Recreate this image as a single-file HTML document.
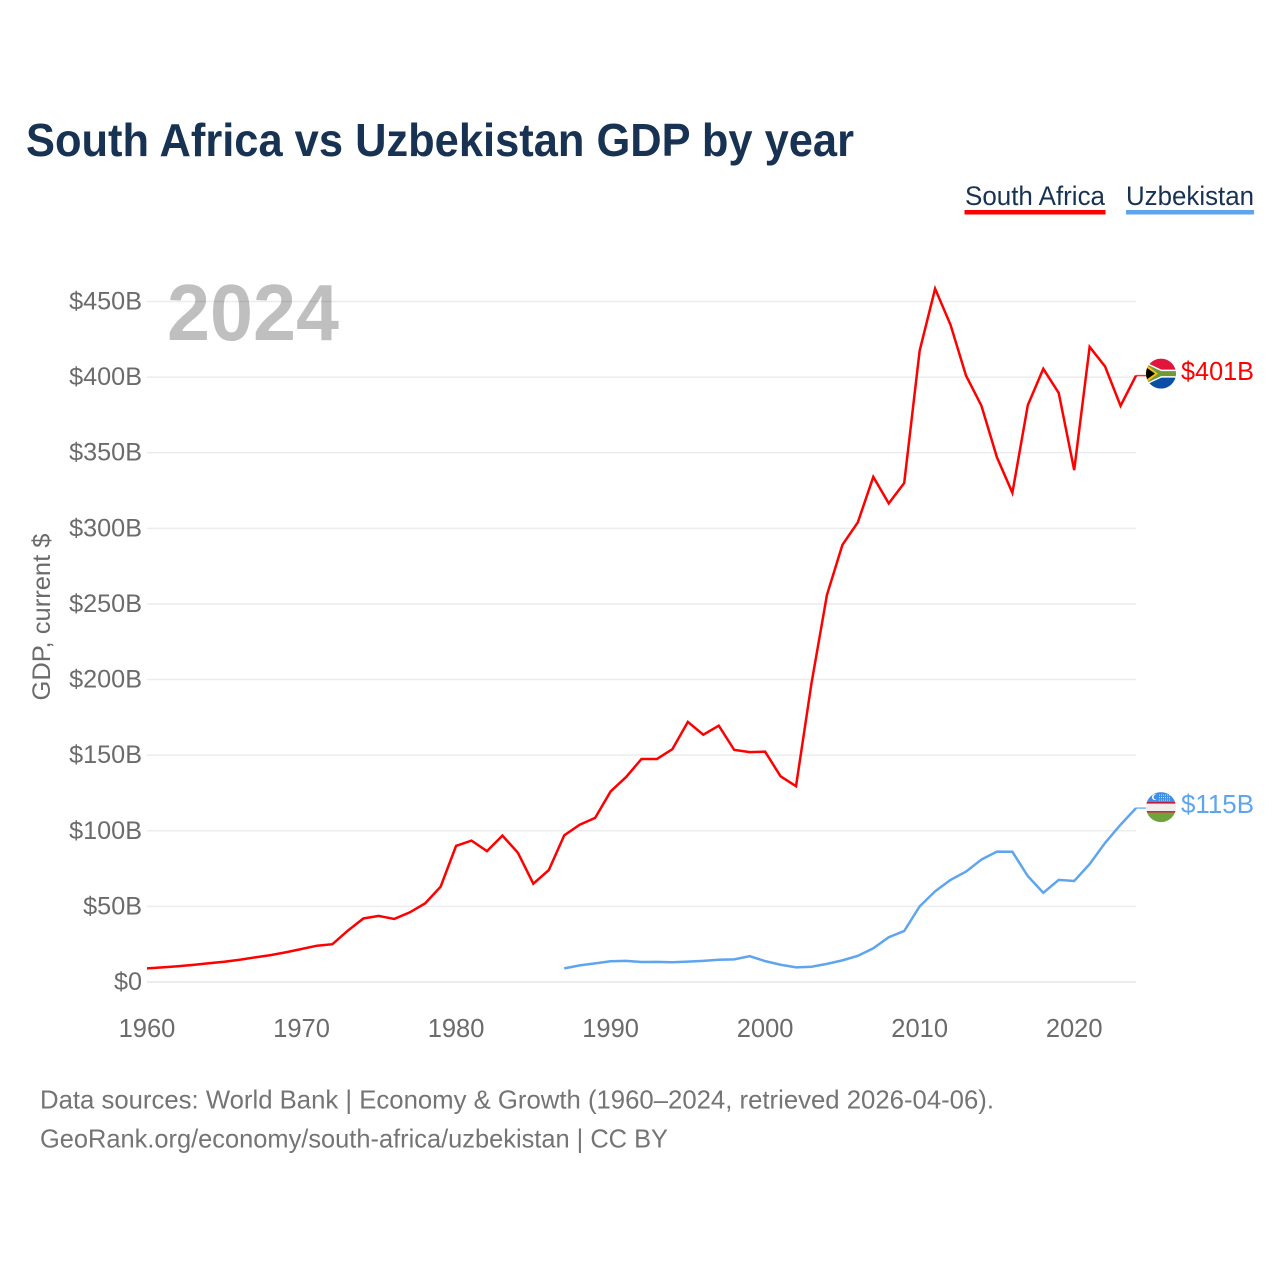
<!DOCTYPE html>
<html lang="en">
<head>
<meta charset="utf-8">
<title>South Africa vs Uzbekistan GDP by year</title>
<style>
html,body{margin:0;padding:0;background:#fff;width:1280px;height:1280px;overflow:hidden}
svg{display:block;font-family:"Liberation Sans",sans-serif}
</style>
</head>
<body>
<svg id="chart" xmlns="http://www.w3.org/2000/svg" width="1280" height="1280" viewBox="0 0 1280 1280">
  <defs>
    <clipPath id="clip-za"><circle cx="0" cy="0" r="15"></circle></clipPath>
    <clipPath id="clip-uz"><circle cx="0" cy="0" r="15"></circle></clipPath>
  </defs>
  <rect x="0" y="0" width="1280" height="1280" fill="#fff"></rect>
  <text x="26" y="156" font-size="46" font-weight="700" fill="#173252" textLength="828" lengthAdjust="spacingAndGlyphs">South Africa vs Uzbekistan GDP by year</text>

  <g>
    <text x="965" y="205" font-size="27" fill="#173252" textLength="140" lengthAdjust="spacingAndGlyphs">South Africa</text>
    <rect x="964.5" y="210" width="141" height="4.5" fill="#ff0000"></rect>
  </g>
  <g>
    <text x="1126" y="205" font-size="27" fill="#173252" textLength="128" lengthAdjust="spacingAndGlyphs">Uzbekistan</text>
    <rect x="1126" y="210" width="128" height="4.5" fill="#5ea5ee"></rect>
  </g>

  <g id="grid"></g>
  <text x="167" y="340" font-size="80" font-weight="700" fill="#000" fill-opacity="0.25" textLength="172" lengthAdjust="spacingAndGlyphs">2024</text>
  <g id="y-axis"></g>
  <g id="x-axis"></g>
  <text transform="translate(50,617) rotate(-90)" text-anchor="middle" font-size="25" fill="#6b6b6b" textLength="167" lengthAdjust="spacingAndGlyphs">GDP, current $</text>
  <g id="series"></g>

  <g id="flag-za">
    <g clip-path="url(#clip-za)">
      <rect x="-15" y="-15" width="30" height="15" fill="#e0143c"></rect>
      <rect x="-15" y="0" width="30" height="15" fill="#0b4ea8"></rect>
      <path d="M-16,-10 L0,-2.5 L16,-2.5 L16,2.5 L0,2.5 L-16,10 Z" fill="#fff" stroke="#fff" stroke-width="3"></path>
      <path d="M-16,-9 L0,-1.5 L16,-1.5 L16,1.5 L0,1.5 L-16,9 Z" fill="#6f9a35" stroke="#6f9a35" stroke-width="2"></path>
      <path d="M-16,-10 L-3,0 L-16,10 Z" fill="#f3c21b"></path>
      <path d="M-16,-7 L-6,0 L-16,7 Z" fill="#000"></path>
    </g>
  </g>
  <g id="flag-uz">
    <g clip-path="url(#clip-uz)">
      <rect x="-15" y="-15" width="30" height="11" fill="#3d8fe8"></rect>
      <rect x="-15" y="-4" width="30" height="8" fill="#f2eeee"></rect>
      <rect x="-15" y="-5" width="30" height="1.5" fill="#d01030"></rect>
      <rect x="-15" y="4" width="30" height="1.5" fill="#d01030"></rect>
      <rect x="-15" y="5.5" width="30" height="10" fill="#6fa33c"></rect>
      <circle cx="-6" cy="-10" r="3" fill="#fff"></circle>
      <circle cx="-4.8" cy="-10" r="2.6" fill="#3d8fe8"></circle>
      <path d="M-2,-12 H9 M-2,-9.5 H9 M-2,-7 H9" stroke="#cfe3fa" stroke-width="1" stroke-dasharray="1 1"></path>
    </g>
  </g>
  <g id="end-labels"></g>

  <text x="40" y="1108.5" font-size="26" fill="#747474" textLength="954" lengthAdjust="spacingAndGlyphs">Data sources: World Bank | Economy &amp; Growth (1960–2024, retrieved 2026-04-06).</text>
  <text x="40" y="1147.5" font-size="26" fill="#747474" textLength="628" lengthAdjust="spacingAndGlyphs">GeoRank.org/economy/south-africa/uzbekistan | CC BY</text>
</svg>

<script>
var southAfricaStartYear = 1960;
var southAfricaValues = [9.0, 9.7, 10.4, 11.3, 12.4, 13.4, 14.7, 16.3, 17.8, 19.7, 21.8, 24.0, 25.0, 34.0, 42.0, 43.7, 41.7, 46.0, 52.0, 63.0, 90.0, 93.5, 86.5, 96.8, 85.5, 65.0, 74.0, 97.0, 104.0, 108.5, 126.0, 135.5, 147.5, 147.5, 154.0, 172.0, 163.5, 169.5, 153.5, 152.0, 152.3, 136.0, 129.5, 197.5, 256.0, 289.0, 304.0, 334.0, 316.5, 330.0, 417.5, 458.5, 434.5, 401.0, 381.0, 347.0, 323.5, 381.5, 405.5, 389.5, 338.5, 420.0, 407.0, 381.0, 401.0];
var uzbekistanStartYear = 1987;
var uzbekistanValues = [9.0, 11.0, 12.3, 13.7, 14.0, 13.2, 13.3, 13.1, 13.5, 14.0, 14.7, 15.0, 17.1, 13.8, 11.4, 9.7, 10.1, 12.0, 14.3, 17.3, 22.3, 29.6, 33.7, 50.0, 60.0, 67.5, 73.0, 81.0, 86.2, 86.1, 70.0, 59.0, 67.5, 66.8, 78.0, 92.0, 104.0, 115.0];
var yTickValues = [0, 50, 100, 150, 200, 250, 300, 350, 400, 450];
var yTickLabels = ["$0", "$50B", "$100B", "$150B", "$200B", "$250B", "$300B", "$350B", "$400B", "$450B"];
var xTickYears = [1960, 1970, 1980, 1990, 2000, 2010, 2020];

function xScale(year) { return 147 + (year - 1960) * (1136 - 147) / 64; }
function yScale(value) { return 982 - value * (982 - 301.5) / 450; }

var NS = "http://www.w3.org/2000/svg";
function make(tag, parent) {
  var el = document.createElementNS(NS, tag);
  parent.appendChild(el);
  return el;
}

var grid = document.getElementById("grid");
var yAxis = document.getElementById("y-axis");
var xAxis = document.getElementById("x-axis");
var seriesLayer = document.getElementById("series");
var endLabels = document.getElementById("end-labels");

yTickValues.forEach(function (v, i) {
  var line = make("line", grid);
  
  
  line.setAttribute("x1", 147);
  line.setAttribute("x2", 1136);
  line.setAttribute("y1", yScale(v));
  line.setAttribute("y2", yScale(v));
  line.setAttribute("stroke", "#ececec");
  line.setAttribute("stroke-width", v === 0 ? 2 : 1.5);

  var label = make("text", yAxis);
  
  
  label.setAttribute("x", 142);
  label.setAttribute("y", yScale(v) + 8);
  label.setAttribute("text-anchor", "end");
  label.setAttribute("font-size", 25.2);
  label.setAttribute("fill", "#6b6b6b");
  label.textContent = yTickLabels[i];
});

xTickYears.forEach(function (yr) {
  var label = make("text", xAxis);
  
  
  label.setAttribute("x", xScale(yr));
  label.setAttribute("y", 1037);
  label.setAttribute("text-anchor", "middle");
  label.setAttribute("font-size", 25.5);
  label.setAttribute("fill", "#6b6b6b");
  label.textContent = String(yr);
});

function linePath(values, startYear) {
  return values.map(function (v, i) {
    return (i ? "L" : "M") + xScale(startYear + i).toFixed(2) + "," + yScale(v).toFixed(2);
  }).join(" ");
}

function drawConnector(value, color) {
  var c = make("line", seriesLayer);
  
  
  c.setAttribute("x1", xScale(2024));
  c.setAttribute("x2", 1146);
  c.setAttribute("y1", yScale(value));
  c.setAttribute("y2", yScale(value));
  c.setAttribute("stroke", color);
  c.setAttribute("stroke-width", 1.5);
  c.setAttribute("stroke-opacity", 0.8);
}

function drawEndLabel(value, color, yOffset) {
  var t = make("text", endLabels);
  
  
  t.setAttribute("x", 1181);
  t.setAttribute("y", yScale(value) + yOffset);
  t.setAttribute("font-size", 26);
  t.setAttribute("fill", color);
  t.setAttribute("textLength", 73);
  t.setAttribute("lengthAdjust", "spacingAndGlyphs");
  t.textContent = "$" + Math.round(value) + "B";
}

var zaPath = make("path", seriesLayer);


zaPath.setAttribute("d", linePath(southAfricaValues, southAfricaStartYear));
zaPath.setAttribute("fill", "none");
zaPath.setAttribute("stroke", "#ff0000");
zaPath.setAttribute("stroke-width", 2.5);
zaPath.setAttribute("stroke-linejoin", "miter");

var uzPath = make("path", seriesLayer);


uzPath.setAttribute("d", linePath(uzbekistanValues, uzbekistanStartYear));
uzPath.setAttribute("fill", "none");
uzPath.setAttribute("stroke", "#5ea5ee");
uzPath.setAttribute("stroke-width", 2.5);
uzPath.setAttribute("stroke-linejoin", "miter");

var zaLast = southAfricaValues[southAfricaValues.length - 1];
var uzLast = uzbekistanValues[uzbekistanValues.length - 1];
drawConnector(zaLast, "#ff0000");
drawConnector(uzLast, "#5ea5ee");
drawEndLabel(zaLast, "#ff0000", 4.5);
drawEndLabel(uzLast, "#5ea5ee", 5);
document.getElementById("flag-za").setAttribute("transform", "translate(1161," + (yScale(zaLast) - 2) + ")");
document.getElementById("flag-uz").setAttribute("transform", "translate(1161," + (yScale(uzLast) - 1) + ")");
</script>
</body>
</html>
